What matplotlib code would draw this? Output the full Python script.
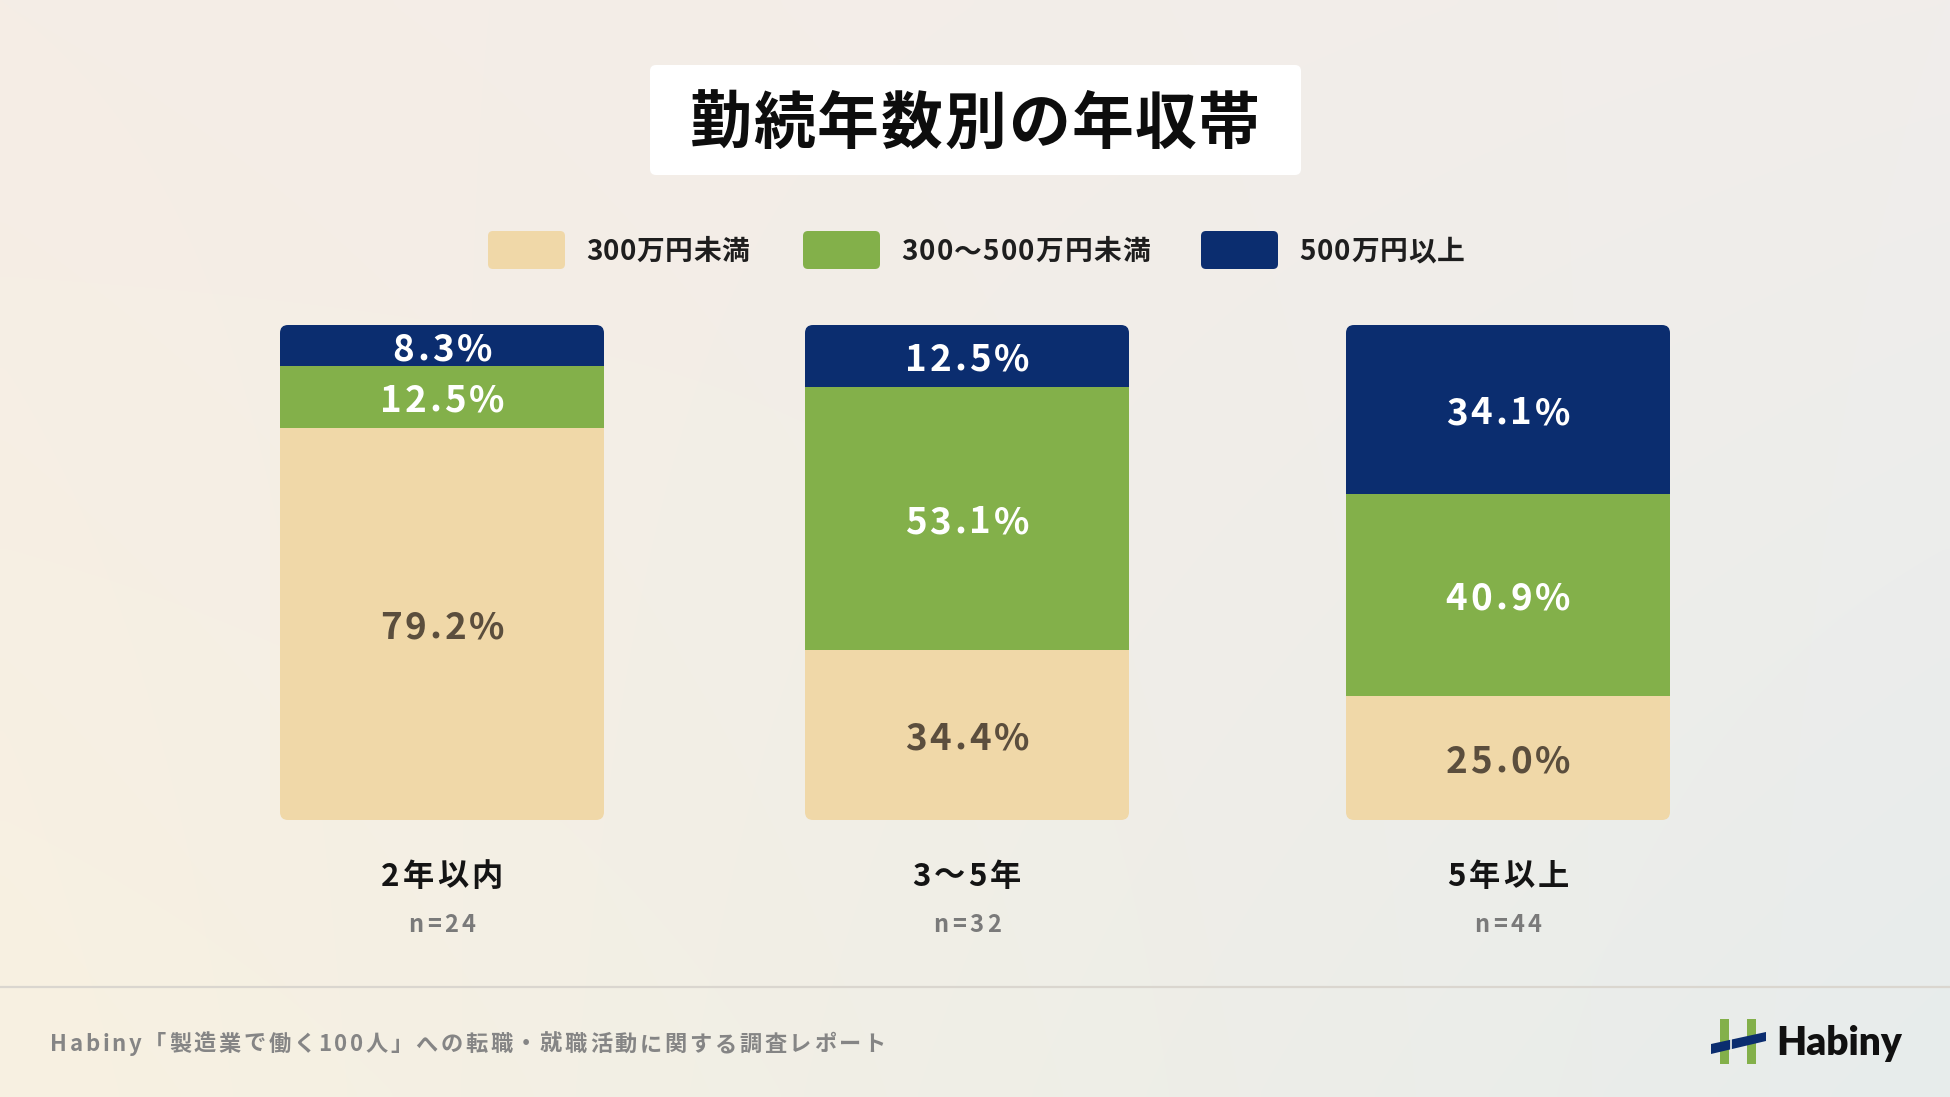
import matplotlib
matplotlib.use("Agg")
import matplotlib.pyplot as plt
import numpy as np
from matplotlib.patches import FancyBboxPatch, Rectangle, Polygon
from matplotlib.font_manager import FontProperties
from matplotlib.transforms import offset_copy, blended_transform_factory

# ---------------- data ----------------
title = "勤続年数別の年収帯"
series_names = ["300万円未満", "300〜500万円未満", "500万円以上"]
categories = ["2年以内", "3〜5年", "5年以上"]
sample_sizes = ["n=24", "n=32", "n=44"]
under300 = [79.2, 34.4, 25.0]
mid300_500 = [12.5, 53.1, 40.9]
over500 = [8.3, 12.5, 34.1]
footer = "Habiny「製造業で働く100人」への転職・就職活動に関する調査レポート"
brand = "Habiny"

# ---------------- style ----------------
W, H, DPI = 1950, 1097, 100
JP = ["Noto Sans CJK JP", "DejaVu Sans"]
C_BEIGE = "#F0D8A8"
C_GREEN = "#83B04A"
C_NAVY = "#0B2D6F"
C_BEIGE_TXT = "#5B4E3D"
series_colors = [C_BEIGE, C_GREEN, C_NAVY]
label_colors = [C_BEIGE_TXT, "white", "white"]

fig = plt.figure(figsize=(W / DPI, H / DPI), dpi=DPI)
renderer = fig.canvas.get_renderer()

# background gradient
bg = fig.add_axes([0, 0, 1, 1])
bg.set_axis_off()
tl = np.array([245, 237, 230]) / 255
tr = np.array([241, 238, 235]) / 255
bl = np.array([248, 241, 225]) / 255
br = np.array([231, 236, 236]) / 255
xs = np.linspace(0, 1, 200)[None, :, None]
ys = np.linspace(0, 1, 120)[:, None, None]
top = tl * (1 - xs) + tr * xs
bot = bl * (1 - xs) + br * xs
img = top * (1 - ys) + bot * ys
bg.imshow(img, extent=[0, 1, 0, 1], aspect="auto", origin="upper", interpolation="bicubic")
bg.set_xlim(0, 1)
bg.set_ylim(0, 1)

# overlay axes in pixel coordinates (y downwards)
ov = fig.add_axes([0, 0, 1, 1])
ov.set_axis_off()
ov.patch.set_alpha(0)
ov.set_xlim(0, W)
ov.set_ylim(H, 0)


def spaced_text(ax_, x, y, s, trans, size, color, weight="bold", spacing=None,
                width=None, ha="center", family=JP, cap=0.37):
    prop = FontProperties(family=family, size=size, weight=weight)
    ws = [renderer.get_text_width_height_descent(ch, prop, ismath=False)[0] for ch in s]
    n = len(s)
    if width is not None and n > 1:
        spacing = (width - sum(ws)) / (n - 1)
    if spacing is None:
        spacing = 0
    total = sum(ws) + spacing * (n - 1)
    off = {"center": -total / 2, "left": 0, "right": -total}[ha]
    for ch, w in zip(s, ws):
        t = offset_copy(trans, fig=fig, x=off * 72 / DPI, y=-cap * size, units="points")
        ax_.text(x, y, ch, transform=t, fontproperties=prop, color=color,
                 ha="left", va="baseline")
        off += w + spacing


# title box
ov.add_patch(FancyBboxPatch((650, 65), 651, 110, boxstyle="round,pad=0,rounding_size=6",
                            fc="white", ec="none"))
spaced_text(ov, 975, 120, title, ov.transData, 44.5, "#0D0D0D", width=570)

# legend
leg_x = [488, 803, 1201]
leg_w = [163, 249, 166]
for i, name in enumerate(series_names):
    ov.add_patch(FancyBboxPatch((leg_x[i], 231), 77, 38, boxstyle="round,pad=0,rounding_size=5",
                                fc=series_colors[i], ec="none"))
    spaced_text(ov, leg_x[i] + 98, 250, name, ov.transData, 20, "#1E1E1E",
                width=leg_w[i], ha="left")

# bars axes
bar_top, bar_bot = 325, 820
ax = fig.add_axes([0, (H - bar_bot) / H, 1, (bar_bot - bar_top) / H])
ax.set_axis_off()
ax.patch.set_alpha(0)
ax.set_xlim(0, W)
ax.set_ylim(0, 100)

bar_x = [442, 967, 1508]
bar_w = 324
stack = [under300, mid300_500, over500]
aspect = 100 / (bar_bot - bar_top)
for i, x in enumerate(bar_x):
    bottom = 0
    clip = FancyBboxPatch((x - bar_w / 2, 0), bar_w, sum(s[i] for s in stack),
                          boxstyle="round,pad=0,rounding_size=8", mutation_aspect=aspect,
                          transform=ax.transData, fc="none", ec="none")
    for j, s in enumerate(stack):
        bars = ax.bar(x, s[i], bottom=bottom, width=bar_w, color=series_colors[j],
                      linewidth=0)
        for b in bars:
            b.set_clip_path(clip)
        spaced_text(ax, x, bottom + s[i] / 2, f"{s[i]:.1f}%", ax.transData, 26.5,
                    label_colors[j], spacing=3.0, cap=0.40)
        bottom += s[i]

# category labels
bt = blended_transform_factory(ax.transData, ov.transData)
for i, x in enumerate(bar_x):
    spaced_text(ov, x, 874, categories[i], bt, 22.5, "#141414", spacing=3.2)
    spaced_text(ov, x, 923, sample_sizes[i], bt, 17, "#7A7A7A", spacing=3.6, cap=0.37)

# separator line
ov.plot([0, W], [987, 987], color="#DAD6CF", lw=1.6)

# footer
spaced_text(ov, 50, 1043, footer, ov.transData, 16, "#858585", weight="bold",
            width=836, ha="left")

# logo
ov.add_patch(Rectangle((1720, 1019), 9, 45, fc=C_GREEN, ec="none"))
ov.add_patch(Rectangle((1747, 1019), 9, 45, fc=C_GREEN, ec="none"))
ov.add_patch(Polygon([(1711, 1044), (1766, 1032), (1766, 1041), (1711, 1054)],
                     closed=True, fc=C_NAVY, ec="none"))
ov.plot([1731, 1731], [1035, 1052], color="#EEF0EC", lw=1.2)
ov.text(1776, 1043, brand, fontsize=28, fontweight="heavy", family=["Lato", "DejaVu Sans"],
        color="#111111", ha="left", va="center")

fig.savefig("out.png", dpi=DPI)
